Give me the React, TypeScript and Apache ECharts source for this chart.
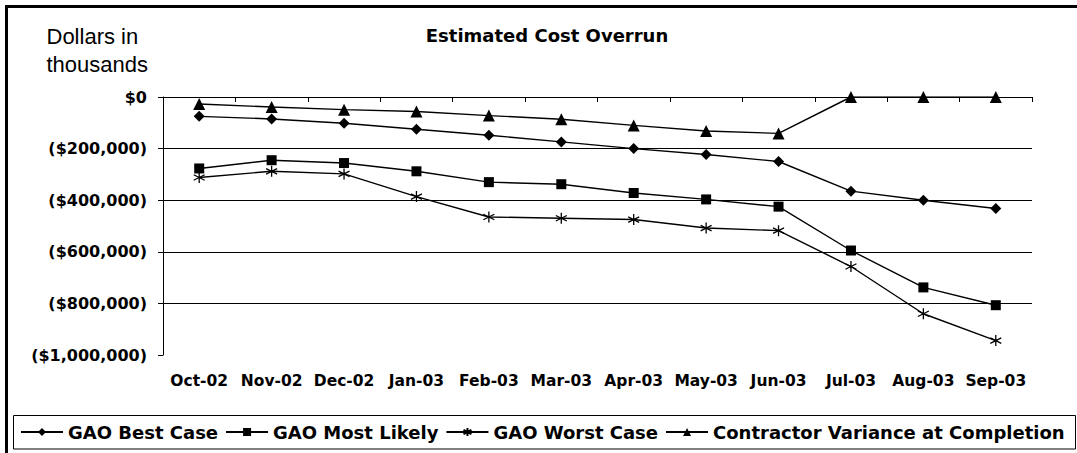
import React, { useEffect, useRef } from "react";
import * as echarts from "echarts";

const categories = ["Oct-02", "Nov-02", "Dec-02", "Jan-03", "Feb-03", "Mar-03", "Apr-03", "May-03", "Jun-03", "Jul-03", "Aug-03", "Sep-03"];
const bestCase = [-75000, -85000, -102000, -125000, -148000, -174000, -200000, -223000, -250000, -365000, -400000, -432000];
const mostLikely = [-277000, -245000, -256000, -288000, -330000, -338000, -372000, -397000, -425000, -595000, -738000, -807000];
const worstCase = [-312000, -288000, -298000, -386000, -465000, -470000, -475000, -508000, -518000, -657000, -840000, -944000];
const contractorVAC = [-27000, -39000, -49000, -56000, -72000, -86000, -110000, -132000, -141000, 0, 0, 0];
const seriesNames = ["GAO Best Case", "GAO Most Likely", "GAO Worst Case", "Contractor Variance at Completion"];

const BOLD = "DejaVu Sans";
const asterisk = "path://M5,0 L5,10 M0.7,2.5 L9.3,7.5 M0.7,7.5 L9.3,2.5";

function fmt(v: number): string {
  if (v === 0) return "$0";
  return "($" + Math.abs(v).toLocaleString("en-US") + ")";
}

export default function App() {
  const ref = useRef<HTMLDivElement>(null);
  useEffect(() => {
    if (!ref.current) return;
    const chart = echarts.init(ref.current, undefined, { renderer: "svg" });
    const line = { color: "#000", width: 1.4 };
    chart.setOption({
      animation: false,
      backgroundColor: "#fff",
      grid: { left: 163, right: 45, top: 97, bottom: 98, containLabel: false },
      graphic: [
        { type: "rect", shape: { x: 6.5, y: 6.5, width: 1100, height: 480 }, style: { fill: "none", stroke: "#000", lineWidth: 3 }, silent: true },
        { type: "rect", shape: { x: 13.5, y: 415.5, width: 1062, height: 33.5 }, style: { fill: "none", stroke: "#000", lineWidth: 1 }, silent: true },
        { type: "text", x: 547, y: 35, style: { text: "Estimated Cost Overrun", font: `bold 18px "${BOLD}"`, fill: "#000", textAlign: "center", textVerticalAlign: "middle" } },
        { type: "text", x: 46.5, y: 36.5, style: { text: "Dollars in", font: `22px "Liberation Sans"`, fill: "#000", textAlign: "left", textVerticalAlign: "middle" } },
        { type: "text", x: 46.5, y: 64.3, style: { text: "thousands", font: `22px "Liberation Sans"`, fill: "#000", textAlign: "left", textVerticalAlign: "middle" } },
      ],
      legend: {
        data: seriesNames,
        left: 20,
        top: 423,
        padding: 0,
        itemWidth: 42,
        itemHeight: 10,
        itemGap: 7,
        textStyle: { fontFamily: BOLD, fontWeight: "bold", fontSize: 18, color: "#000" },
      },
      xAxis: [
        {
          type: "category",
          data: categories,
          position: "top",
          boundaryGap: true,
          axisLine: { show: true, onZero: false, lineStyle: { color: "#000", width: 1 } },
          axisTick: { show: true, inside: true, length: 5, lineStyle: { color: "#000" } },
          axisLabel: { show: false },
          splitLine: { show: false },
        },
        {
          type: "category",
          data: categories,
          position: "bottom",
          boundaryGap: true,
          axisLine: { show: false, onZero: false },
          axisTick: { show: false },
          axisLabel: { show: true, margin: 18, fontFamily: BOLD, fontWeight: "bold", fontSize: 15.5, color: "#000", interval: 0 },
          splitLine: { show: false },
        },
      ],
      yAxis: {
        type: "value",
        min: -1000000,
        max: 0,
        interval: 200000,
        axisLine: { show: true, onZero: false, lineStyle: { color: "#000", width: 1 } },
        axisTick: { show: true, inside: false, length: 5, lineStyle: { color: "#000" } },
        axisLabel: { margin: 16, formatter: fmt, fontFamily: BOLD, fontWeight: "bold", fontSize: 16, color: "#000" },
        splitLine: { show: true, lineStyle: { color: ["transparent", "#000", "#000", "#000", "#000", "#000"], width: 1 } },
      },
      series: [
        { name: seriesNames[0], type: "line", xAxisIndex: 0, data: bestCase, symbol: "diamond", symbolSize: 11, lineStyle: line, itemStyle: { color: "#000" } },
        { name: seriesNames[1], type: "line", xAxisIndex: 0, data: mostLikely, symbol: "rect", symbolSize: 10, lineStyle: line, itemStyle: { color: "#000" } },
        { name: seriesNames[2], type: "line", xAxisIndex: 0, data: worstCase, symbol: asterisk, symbolSize: 11, lineStyle: line, itemStyle: { color: "#000", borderColor: "#000", borderWidth: 1.3 } },
        { name: seriesNames[3], type: "line", xAxisIndex: 0, data: contractorVAC, symbol: "triangle", symbolSize: 12, lineStyle: line, itemStyle: { color: "#000" } },
      ],
    });
    return () => chart.dispose();
  }, []);
  return <div ref={ref} style={{ position: "fixed", left: 0, top: 0, width: 1077, height: 453 }} />;
}
